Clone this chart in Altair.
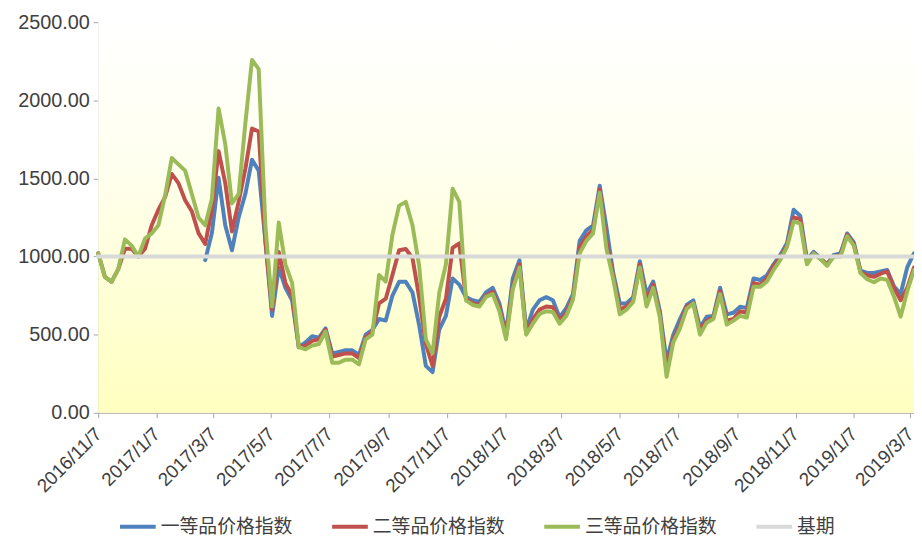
import altair as alt
import pandas as pd

# ---------------- data (weekly readings from the picture) ----------------
dates = pd.date_range("2016-11-07", periods=123, freq="7D")

grade1 = [None] * 16 + [
    977, 1150, 1504, 1200, 1040, 1250, 1400, 1620, 1550, 1100,
    620, 930, 800, 720, 420, 450, 490, 480, 540, 380,
    390, 400, 400, 370, 500, 530, 600, 590, 750, 838,
    838, 770, 560, 300, 260, 533, 620, 860, 820, 740,
    720, 710, 770, 800, 700, 510, 860, 977, 530, 660,
    720, 740, 720, 610, 670, 760, 1100, 1168, 1199, 1453,
    1187, 900, 700, 700, 740, 970, 760, 840, 650, 330,
    500, 600, 690, 720, 545, 615, 620, 800, 630, 640,
    679, 670, 860, 850, 880, 950, 1010, 1085, 1300, 1260,
    980, 1030, 990, 950, 1010, 1020, 1148, 1090, 910, 895,
    895, 905, 914, 810, 760, 933, 1021,
]

grade2 = [
    1021, 870, 838, 920, 1050, 1050, 1000, 1050, 1200, 1300,
    1380, 1529, 1470, 1360, 1290, 1150, 1080, 1300, 1675, 1470,
    1160, 1350, 1560, 1820, 1800, 1100, 660, 1030, 830, 750,
    420, 430, 460, 470, 530, 360, 370, 380, 380, 350,
    480, 520, 700, 730, 882, 1040, 1048, 990, 740, 440,
    300, 615, 730, 1055, 1085, 730, 700, 690, 750, 775,
    670, 490, 810, 950, 510, 600, 660, 680, 675, 590,
    640, 740, 1060, 1130, 1170, 1430, 1100, 880, 660, 680,
    720, 950, 710, 820, 630, 270, 470, 560, 680, 700,
    530, 590, 610, 780, 590, 600, 650, 640, 830, 820,
    860, 940, 990, 1070, 1250, 1240, 960, 1020, 985, 950,
    1000, 1010, 1140, 1080, 900, 880, 870, 890, 905, 800,
    720, 800, 930,
]

grade3 = [
    1021, 870, 838, 920, 1110, 1070, 1000, 1115, 1148, 1200,
    1390, 1631, 1590, 1550, 1400, 1250, 1200, 1370, 1948, 1720,
    1340, 1400, 1850, 2259, 2200, 1200, 680, 1218, 950, 830,
    420, 406, 430, 440, 520, 320, 320, 340, 340, 310,
    470, 500, 882, 840, 1140, 1326, 1350, 1200, 940, 470,
    380, 767, 950, 1434, 1350, 720, 690, 680, 742, 760,
    650, 470, 790, 930, 500, 570, 632, 650, 645, 570,
    620, 723, 1020, 1100, 1148, 1409, 1050, 860, 630, 660,
    710, 930, 680, 800, 610, 230, 450, 540, 665, 700,
    500, 577, 600, 760, 565, 590, 620, 610, 806, 806,
    840, 914, 977, 1060, 1225, 1210, 950, 1020, 985, 940,
    1000, 1000, 1130, 1070, 895, 855, 835, 860, 850, 745,
    615, 780, 914,
]

base = [1000] * 123

names = ["一等品价格指数", "二等品价格指数", "三等品价格指数", "基期"]
colors = ["#4F81BD", "#C0504D", "#9BBB59", "#D9D9D9"]

y_ticks = [0, 500, 1000, 1500, 2000, 2500]
x_ticks = [
    (2016, 11, 7), (2017, 1, 7), (2017, 3, 7), (2017, 5, 7), (2017, 7, 7),
    (2017, 9, 7), (2017, 11, 7), (2018, 1, 7), (2018, 3, 7), (2018, 5, 7),
    (2018, 7, 7), (2018, 9, 7), (2018, 11, 7), (2019, 1, 7), (2019, 3, 7),
]

# ---------------- build table ----------------
df = pd.DataFrame({"date": dates, names[0]: grade1, names[1]: grade2,
                   names[2]: grade3, names[3]: base})
long = df.melt("date", var_name="series", value_name="value")

num_font = "Liberation Sans"
cjk_font = "Noto Sans CJK SC"
text_col = "#404040"
axis_col = "#A6A6A6"

x_enc = alt.X(
    "date:T",
    scale=alt.Scale(domain=[alt.DateTime(year=2016, month=11, date=7),
                            alt.DateTime(year=2019, month=3, date=11)], nice=False),
    axis=alt.Axis(
        values=[alt.DateTime(year=a, month=b, date=c) for a, b, c in x_ticks],
        format="%Y/%-m/%-d", labelAngle=315, labelAlign="right", labelBaseline="middle",
        labelFont=num_font, labelFontSize=19, labelColor=text_col, labelPadding=13,
        grid=False, domainColor=axis_col, tickColor=axis_col, tickSize=5, title=None,
        labelOverlap=False,
    ),
)
y_enc = alt.Y(
    "value:Q",
    scale=alt.Scale(domain=[0, 2500], nice=False),
    axis=alt.Axis(values=y_ticks, format=".2f", grid=False, domainColor=axis_col,
                  tickColor=axis_col, tickSize=5, labelFont=num_font, labelFontSize=20,
                  labelColor=text_col, labelPadding=4, title=None),
)
c_enc = alt.Color(
    "series:N",
    scale=alt.Scale(domain=names, range=colors),
    legend=alt.Legend(orient="none", direction="horizontal", legendX=20, legendY=489,
                      title=None, symbolType="stroke", symbolStrokeWidth=4,
                      symbolSize=1296, labelFont=cjk_font, labelFontSize=19,
                      labelColor=text_col, columnPadding=31, labelOffset=3,
                      columns=4),
)

gradient = alt.LinearGradient(
    gradient="linear", x1=0, y1=0, x2=0, y2=1,
    stops=[alt.GradientStop(color="#FFFFFF", offset=0),
           alt.GradientStop(color="#FFFFF0", offset=0.35),
           alt.GradientStop(color="#FFFFC0", offset=1)],
)
bg = alt.Chart(pd.DataFrame({"k": [0]})).mark_rect(color=gradient).encode(
    x=alt.value(0), x2=alt.value("width"), y=alt.value(0), y2=alt.value("height"))

layers = [bg]
for nm in names:
    layers.append(
        alt.Chart(long).transform_filter(alt.datum.series == nm)
        .mark_line(strokeWidth=4, strokeJoin="round", strokeCap="round")
        .encode(x=x_enc, y=y_enc, color=c_enc)
    )

chart = alt.layer(*layers).properties(
    width=823, height=394,
    autosize=alt.AutoSizeParams(type="none"),
    padding={"left": 91, "top": 12, "right": 0, "bottom": 125},
).configure_view(stroke=None)

chart.save("out.html", embed_options={"renderer": "svg", "actions": False})
